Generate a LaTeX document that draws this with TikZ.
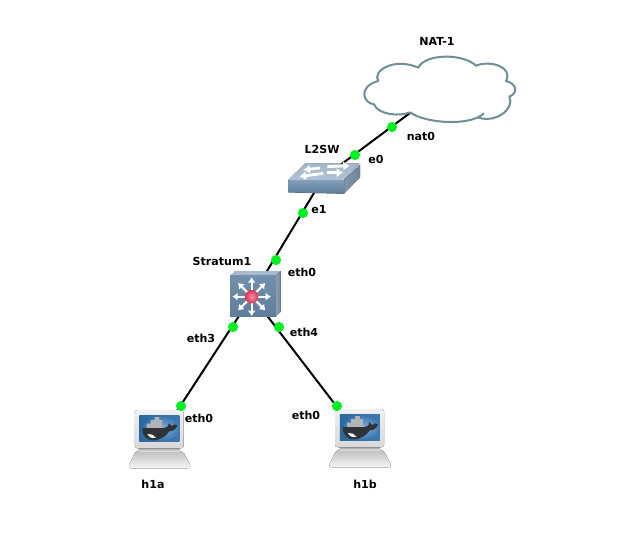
\documentclass[tikz,border=0pt]{standalone}
\usepackage{fontspec}
\usetikzlibrary{arrows.meta}
\setmainfont{DejaVu Sans}
\definecolor{dotgreen}{HTML}{00F020}
\definecolor{cloudline}{HTML}{6F8F96}
\definecolor{swtopa}{HTML}{A2B6C9}
\definecolor{swtopb}{HTML}{B3C3D2}
\definecolor{swsidea}{HTML}{8197AD}
\definecolor{swsideb}{HTML}{6D8399}
\definecolor{swfronta}{HTML}{82A0BB}
\definecolor{swfrontb}{HTML}{5D7A96}
\definecolor{rttop}{HTML}{A8BBCE}
\definecolor{rtsidea}{HTML}{8CA0B5}
\definecolor{rtsideb}{HTML}{77899C}
\definecolor{rtfronta}{HTML}{7390AD}
\definecolor{rtfrontb}{HTML}{5F7C9A}
\definecolor{hubin}{HTML}{F58BA0}
\definecolor{hubout}{HTML}{DE3458}
\definecolor{basea}{HTML}{BDBDBD}
\definecolor{baseb}{HTML}{F6F6F6}
\definecolor{necka}{HTML}{A9A9A9}
\definecolor{neckb}{HTML}{DDDDDD}
\definecolor{mona}{HTML}{F0F0F0}
\definecolor{monb}{HTML}{D8D8D8}
\definecolor{scra}{HTML}{2B689F}
\definecolor{scrb}{HTML}{3C79B0}
\definecolor{scrc}{HTML}{7FB0DA}
\definecolor{scrd}{HTML}{3672AB}
\definecolor{boxgrey}{HTML}{B0B3B7}
\definecolor{whale}{HTML}{2F3338}
\begin{document}
\begin{tikzpicture}[x=.75pt,y=-.75pt,
  link/.style={draw=black,line width=1.5pt},
  portdot/.style={circle,fill=dotgreen,inner sep=0pt,minimum size=7.6pt},
  lbl/.style={inner sep=0pt,font=\bfseries\fontsize{8.3pt}{10pt}\selectfont,text=black},
  arrowwhite/.style={draw=white,line width=1.6pt,-{Latex[length=4pt,width=6pt]}},
  cloudicon/.pic={
    \begin{scope}[x=.25pt,y=-.25pt]
      \path[fill=white,draw=cloudline,line width=1.5pt,line join=round]
        (180,262) .. controls (150,275) and (85,270) .. (72,238)
        .. controls (40,235) and (22,185) .. (85,168)
        .. controls (65,140) and (130,95) .. (205,128)
        .. controls (225,85) and (340,85) .. (378,122)
        .. controls (420,105) and (490,125) .. (468,168)
        .. controls (500,175) and (505,205) .. (478,215)
        .. controls (495,250) and (440,295) .. (385,278);
      \path[fill=white] (178,260) -- (400,262) -- (385,280) -- (250,290) -- cycle;
      \draw[cloudline,line width=1.5pt] (180,262)
        .. controls (225,295) and (360,305) .. (402,265);
    \end{scope}},
  switchicon/.pic={
    \begin{scope}[x=.25pt,y=-.25pt]
      \fill[top color=swtopa,bottom color=swtopb] (105,101) -- (268,101) -- (222,150) -- (55,150) -- cycle;
      \fill[left color=swsidea,right color=swsideb] (222,150) -- (270,104) -- (270,142) -- (222,191) -- cycle;
      \fill[top color=swfronta,bottom color=swfrontb] (55,150) -- (222,150) -- (222,191) -- (55,187) -- cycle;
      \foreach \ax/\ay/\bx/\by in {150/114/100/120, 172/110/240/107, 160/130/88/140, 172/128/220/128}
        \draw[draw=white,line width=2.1pt,-{Latex[length=5pt,width=7pt]}] (\ax,\ay) -- (\bx,\by);
    \end{scope}},
  routericon/.pic={
    \begin{scope}[x=.25pt,y=-.25pt]
      \fill[rttop] (135,92) -- (150,78) -- (287,78) -- (272,92) -- cycle;
      \fill[left color=rtsidea,right color=rtsideb] (272,92) -- (287,78) -- (287,200) -- (272,215) -- cycle;
      \fill[top color=rtfronta,bottom color=rtfrontb] (135,92) rectangle (272,215);
      \foreach \a in {0,45,...,315}
        \draw[arrowwhite] (200,155) -- ++(\a:58);
      \shade[inner color=hubin,outer color=hubout] (200,155) circle (20);
    \end{scope}},
  hosticon/.pic={
    \begin{scope}[x=.25pt,y=-.25pt]
      % base and neck
      \fill[top color=basea,bottom color=baseb,rounded corners=3pt]
        (48,166) -- (187,166) -- (216,220) -- (22,220) -- cycle;
      \fill[top color=necka,bottom color=neckb] (58,160) rectangle (178,168);
      % monitor housing
      \fill[top color=mona,bottom color=monb,rounded corners=2pt] (44,45) rectangle (191,160);
      % screen
      \fill[left color=scra,right color=scrb] (58,62) rectangle (178,138);
      \begin{scope}
        \clip (58,62) rectangle (178,138);
        \shade[inner color=scrc,outer color=scrd] (128,100) ellipse (58 and 38);
      \end{scope}
      % containers stacked on the whale's back
      \fill[boxgrey] (80,100) -- (80,86) -- (92,86) -- (92,75) -- (104,75) -- (104,66)
        -- (118,66) -- (118,75) -- (127,75) -- (127,100) -- cycle;
      % whale
      \fill[whale] (67,99) -- (132,99)
        .. controls (140,99) and (146,94) .. (146,84)
        .. controls (150,86) and (153,90) .. (155,93)
        .. controls (160,87) and (167,87) .. (172,91)
        .. controls (168,104) and (157,109) .. (148,109)
        .. controls (137,126) and (117,136) .. (100,136)
        .. controls (78,136) and (66,120) .. (67,99) -- cycle;
      \fill[white] (82,117) .. controls (92,115) and (102,120) .. (108,128)
        .. controls (96,132) and (87,127) .. (82,117) -- cycle;
    \end{scope}}]
\useasboundingbox (0,0) rectangle (627,542);
\fill[white] (0,0) rectangle (627,542);

% device centres
\coordinate (nat) at (438,92);
\coordinate (l2sw) at (323,178);
\coordinate (stratum) at (252,296);
\coordinate (hosta) at (160,437);
\coordinate (hostb) at (360,437);

% links
\draw[link] (nat) -- (l2sw);
\draw[link] (l2sw) -- (stratum);
\draw[link] (stratum) -- (hosta);
\draw[link] (stratum) -- (hostb);

% devices
\pic at (350,25) {cloudicon};
\pic at (270,130) {switchicon};
\pic at (185,245) {routericon};
\pic at (120,395) {hosticon};
\pic at (320.5,394) {hosticon};

% port markers
\node[portdot] (p1) at (392,127) {};
\node[portdot] (p2) at (355,155) {};
\node[portdot] (p3) at (303,213) {};
\node[portdot] (p4) at (276,260) {};
\node[portdot] (p5) at (233,327) {};
\node[portdot] (p6) at (279,327) {};
\node[portdot] (p7) at (181,406) {};
\node[portdot] (p8) at (337,406) {};

% labels
\node[lbl] (tnat) at (437,41) {NAT-1};
\node[lbl] (t1) at (421,136) {nat0};
\node[lbl] (tsw) at (322,149) {L2SW};
\node[lbl] (t2) at (376,159) {e0};
\node[lbl] (t3) at (319,210) {e1};
\node[lbl] (tst) at (222,261) {Stratum1};
\node[lbl] (t4) at (302,272) {eth0};
\node[lbl] (t5) at (201,338) {eth3};
\node[lbl] (t6) at (304,332) {eth4};
\node[lbl] (t7) at (199,418) {eth0};
\node[lbl] (t8) at (306,415) {eth0};
\node[lbl] (ta) at (153,484) {h1a};
\node[lbl] (tb) at (365,484) {h1b};
\end{tikzpicture}
\end{document}
